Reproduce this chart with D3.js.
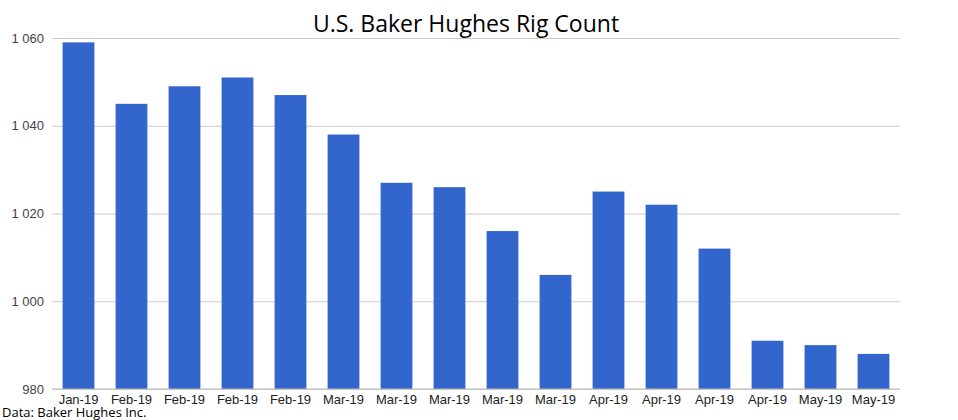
<!DOCTYPE html>
<meta charset="utf-8">
<style>
body { margin: 0; background: #fff; }
</style>
<svg></svg>
<script src="https://d3js.org/d3.v7.min.js"></script>
<script>
var width = 958,
    height = 420;

var labels = ["Jan-19", "Feb-19", "Feb-19", "Feb-19", "Feb-19", "Mar-19", "Mar-19", "Mar-19",
  "Mar-19", "Mar-19", "Apr-19", "Apr-19", "Apr-19", "Apr-19", "May-19", "May-19"];
var rigs = [1059, 1045, 1049, 1051, 1047, 1038, 1027, 1026, 1016, 1006, 1025, 1022, 1012, 991, 990, 988];
var yTicks = [980, 1000, 1020, 1040, 1060];

var margin = {top: 38, right: 58, bottom: 31, left: 52};

var svg = d3.select("svg")
    .attr("width", width)
    .attr("height", height)
    .style("font-family", "'Liberation Sans', Arial, sans-serif");

var x = d3.scaleBand()
    .domain(d3.range(rigs.length))
    .range([margin.left, width - margin.right])
    .paddingInner(0.4)
    .paddingOuter(0.2);

var y = d3.scaleLinear()
    .domain([980, 1060])
    .range([height - margin.bottom, margin.top]);

var fmt = function(d) { return d3.format(",")(d).replace(",", " "); };

// gridlines + y labels
svg.append("g")
    .attr("transform", "translate(" + margin.left + ",0)")
    .call(d3.axisLeft(y).tickValues(yTicks).tickSize(-(width - margin.left - margin.right)).tickPadding(8).tickFormat(fmt))
    .call(function(g) {
      g.select(".domain").remove();
      g.selectAll(".tick line").attr("stroke", "#cccccc");
      g.selectAll(".tick text").attr("fill", "#444").style("font-size", "13px");
    });

svg.append("g")
  .selectAll("rect")
  .data(rigs)
  .join("rect")
    .attr("x", function(d, i) { return x(i); })
    .attr("y", function(d) { return y(d); })
    .attr("width", x.bandwidth())
    .attr("height", function(d) { return y(980) - y(d); })
    .attr("fill", "#3366cc");

// baseline
svg.append("line")
    .attr("x1", margin.left).attr("x2", width - margin.right)
    .attr("y1", y(980)).attr("y2", y(980))
    .attr("stroke", "#bbbbbb");

svg.append("g")
    .attr("transform", "translate(0," + (height - margin.bottom) + ")")
    .call(d3.axisBottom(x).tickSize(0).tickPadding(6).tickFormat(function(i) { return labels[i]; }))
    .call(function(g) {
      g.select(".domain").remove();
      g.selectAll(".tick text").attr("fill", "#222").style("font-size", "13px");
    });

svg.append("text")
    .attr("x", 466)
    .attr("y", 32)
    .attr("text-anchor", "middle")
    .style("font-family", "'Open Sans', sans-serif")
    .style("font-size", "23px")
    .attr("fill", "#000")
    .text("U.S. Baker Hughes Rig Count");

svg.append("text")
    .attr("x", 2)
    .attr("y", 417)
    .style("font-family", "'Open Sans', sans-serif")
    .style("font-size", "13px")
    .attr("fill", "#000")
    .text("Data: Baker Hughes Inc.");
</script>
